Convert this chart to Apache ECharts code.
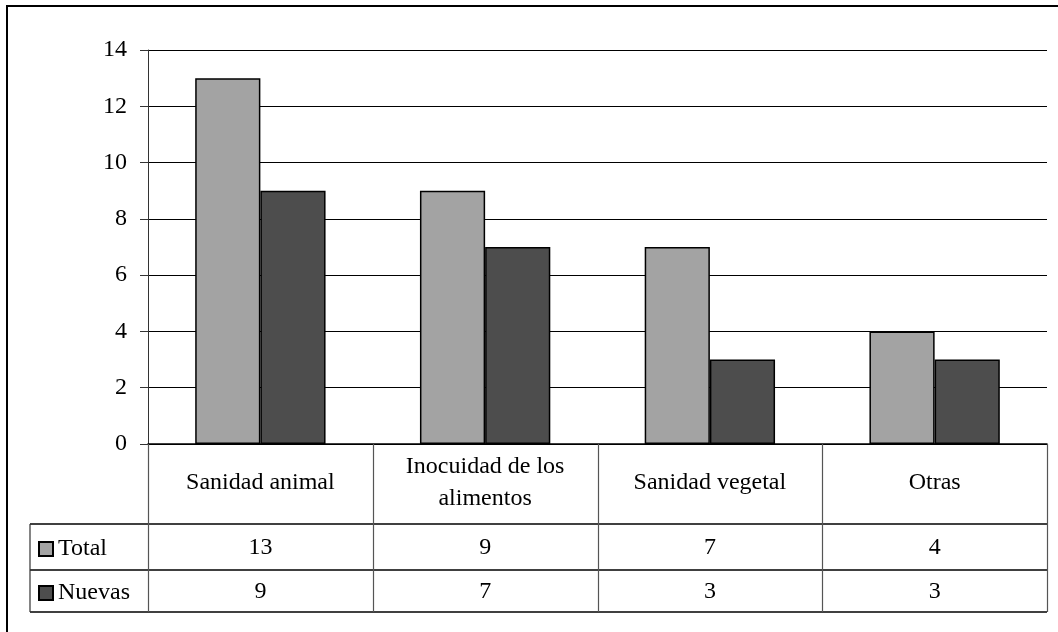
<!DOCTYPE html>
<html>
<head>
<meta charset="utf-8">
<script src="https://cdn.jsdelivr.net/npm/echarts@6/dist/echarts.min.js"></script>
<style>
  html, body { margin: 0; padding: 0; background: #fff; }
  #chart { width: 1058px; height: 632px; }
</style>
</head>
<body>
<div id="chart"></div>
<script>
// Categories and series values
const categories = ['Sanidad animal', 'Inocuidad de los\nalimentos', 'Sanidad vegetal', 'Otras'];
const totalValues = [13, 9, 7, 4];
const nuevasValues = [9, 7, 3, 3];
const seriesNames = ['Total', 'Nuevas'];
const yTicks = { min: 0, max: 14, interval: 2 };

// Layout
const W = 1058, H = 632;
const GRID = { left: 148, right: 11, top: 50, bottom: 188 };
const ROW_CAT_BOTTOM = 524;   // bottom of the category row in the table
const ROW_TOTAL_BOTTOM = 570; // bottom of the "Total" row
const TABLE_BOTTOM = 612;     // bottom of the "Nuevas" row
const TABLE_LEFT = 30;        // left edge of the legend column
const FONT = "'Liberation Serif', 'Times New Roman', serif";
const FS = 24;

const zeroY = H - GRID.bottom;
const plotLeft = GRID.left, plotRight = W - GRID.right;
const band = (plotRight - plotLeft) / categories.length;

const chart = echarts.init(document.getElementById('chart'), null, { renderer: 'canvas' });

// Lines for the data table below the plot
const tableLines = [];
function hLine(x1, x2, y, color) {
  tableLines.push({ type: 'line', silent: true, z: 10,
    shape: { x1: x1, y1: y, x2: x2, y2: y },
    style: { stroke: color, lineWidth: 1.5 } });
}
function vLine(x, y1, y2, color) {
  tableLines.push({ type: 'line', silent: true, z: 10,
    shape: { x1: x, y1: y1, x2: x, y2: y2 },
    style: { stroke: color, lineWidth: 1.2 } });
}
hLine(TABLE_LEFT, plotRight, ROW_CAT_BOTTOM, '#000');
hLine(TABLE_LEFT, plotRight, ROW_TOTAL_BOTTOM, '#000');
hLine(TABLE_LEFT, plotRight, TABLE_BOTTOM, '#000');
vLine(TABLE_LEFT, ROW_CAT_BOTTOM, TABLE_BOTTOM, '#333');
for (let i = 0; i <= categories.length; i++) {
  vLine(Math.round(plotLeft + band * i) + 0.5, zeroY, TABLE_BOTTOM, '#555');
}

// Outer chart frame
const frame = { type: 'rect', silent: true, z: 0,
  shape: { x: 7, y: 6, width: W + 40, height: H + 40 },
  style: { fill: 'none', stroke: '#000', lineWidth: 2 } };

const hiddenY = (gi) => ({ type: 'value', gridIndex: gi, show: false, min: 0, max: 1 });
const rowAxis = (gi, values, margin) => ({
  type: 'category', gridIndex: gi, position: 'bottom', data: values.map(String),
  axisLine: { show: false }, axisTick: { show: false }, splitLine: { show: false },
  axisLabel: { interval: 0, margin: margin, verticalAlign: 'middle',
    color: '#000', fontFamily: FONT, fontSize: FS }
});

chart.setOption({
  animation: false,
  backgroundColor: '#fff',
  textStyle: { fontFamily: FONT },
  grid: [GRID, GRID, GRID].map(g => Object.assign({ containLabel: false }, g)),
  legend: {
    data: seriesNames,
    orient: 'vertical',
    left: 38, top: 537,
    padding: 0,
    icon: 'rect',
    itemWidth: 14, itemHeight: 14,
    itemGap: 20, itemTextGap: 13,
    textStyle: { color: '#000', fontFamily: FONT, fontSize: FS, lineHeight: 24 },
    selectedMode: false
  },
  xAxis: [
    {
      type: 'category', gridIndex: 0, data: categories,
      axisLine: { show: true, lineStyle: { color: '#000', width: 1.5 } },
      axisTick: { show: false },
      axisLabel: { interval: 0, margin: 39, verticalAlign: 'middle', align: 'center',
        color: '#000', fontFamily: FONT, fontSize: FS, lineHeight: 32 }
    },
    rowAxis(1, totalValues, ROW_CAT_BOTTOM - zeroY + (ROW_TOTAL_BOTTOM - ROW_CAT_BOTTOM) / 2 + 1),
    rowAxis(2, nuevasValues, ROW_TOTAL_BOTTOM - zeroY + (TABLE_BOTTOM - ROW_TOTAL_BOTTOM) / 2 + 1)
  ],
  yAxis: [
    {
      type: 'value', gridIndex: 0,
      min: yTicks.min, max: yTicks.max, interval: yTicks.interval,
      axisLine: { show: true, lineStyle: { color: '#333', width: 1 } },
      axisTick: { show: true, inside: false, length: 8, lineStyle: { color: '#333' } },
      splitLine: { show: true, lineStyle: { color: '#000', width: 1.2 } },
      axisLabel: { margin: 21, color: '#000', fontFamily: FONT, fontSize: FS }
    },
    hiddenY(1),
    hiddenY(2)
  ],
  series: [
    {
      name: seriesNames[0], type: 'bar', xAxisIndex: 0, yAxisIndex: 0,
      data: totalValues, barGap: '0%', barCategoryGap: '42%',
      itemStyle: { color: '#a3a3a3', borderColor: '#000', borderWidth: 1.5 }
    },
    {
      name: seriesNames[1], type: 'bar', xAxisIndex: 0, yAxisIndex: 0,
      data: nuevasValues, barGap: '0%', barCategoryGap: '42%',
      itemStyle: { color: '#4d4d4d', borderColor: '#000', borderWidth: 1.5 }
    }
  ],
  graphic: [frame].concat(tableLines)
});
</script>
</body>
</html>
